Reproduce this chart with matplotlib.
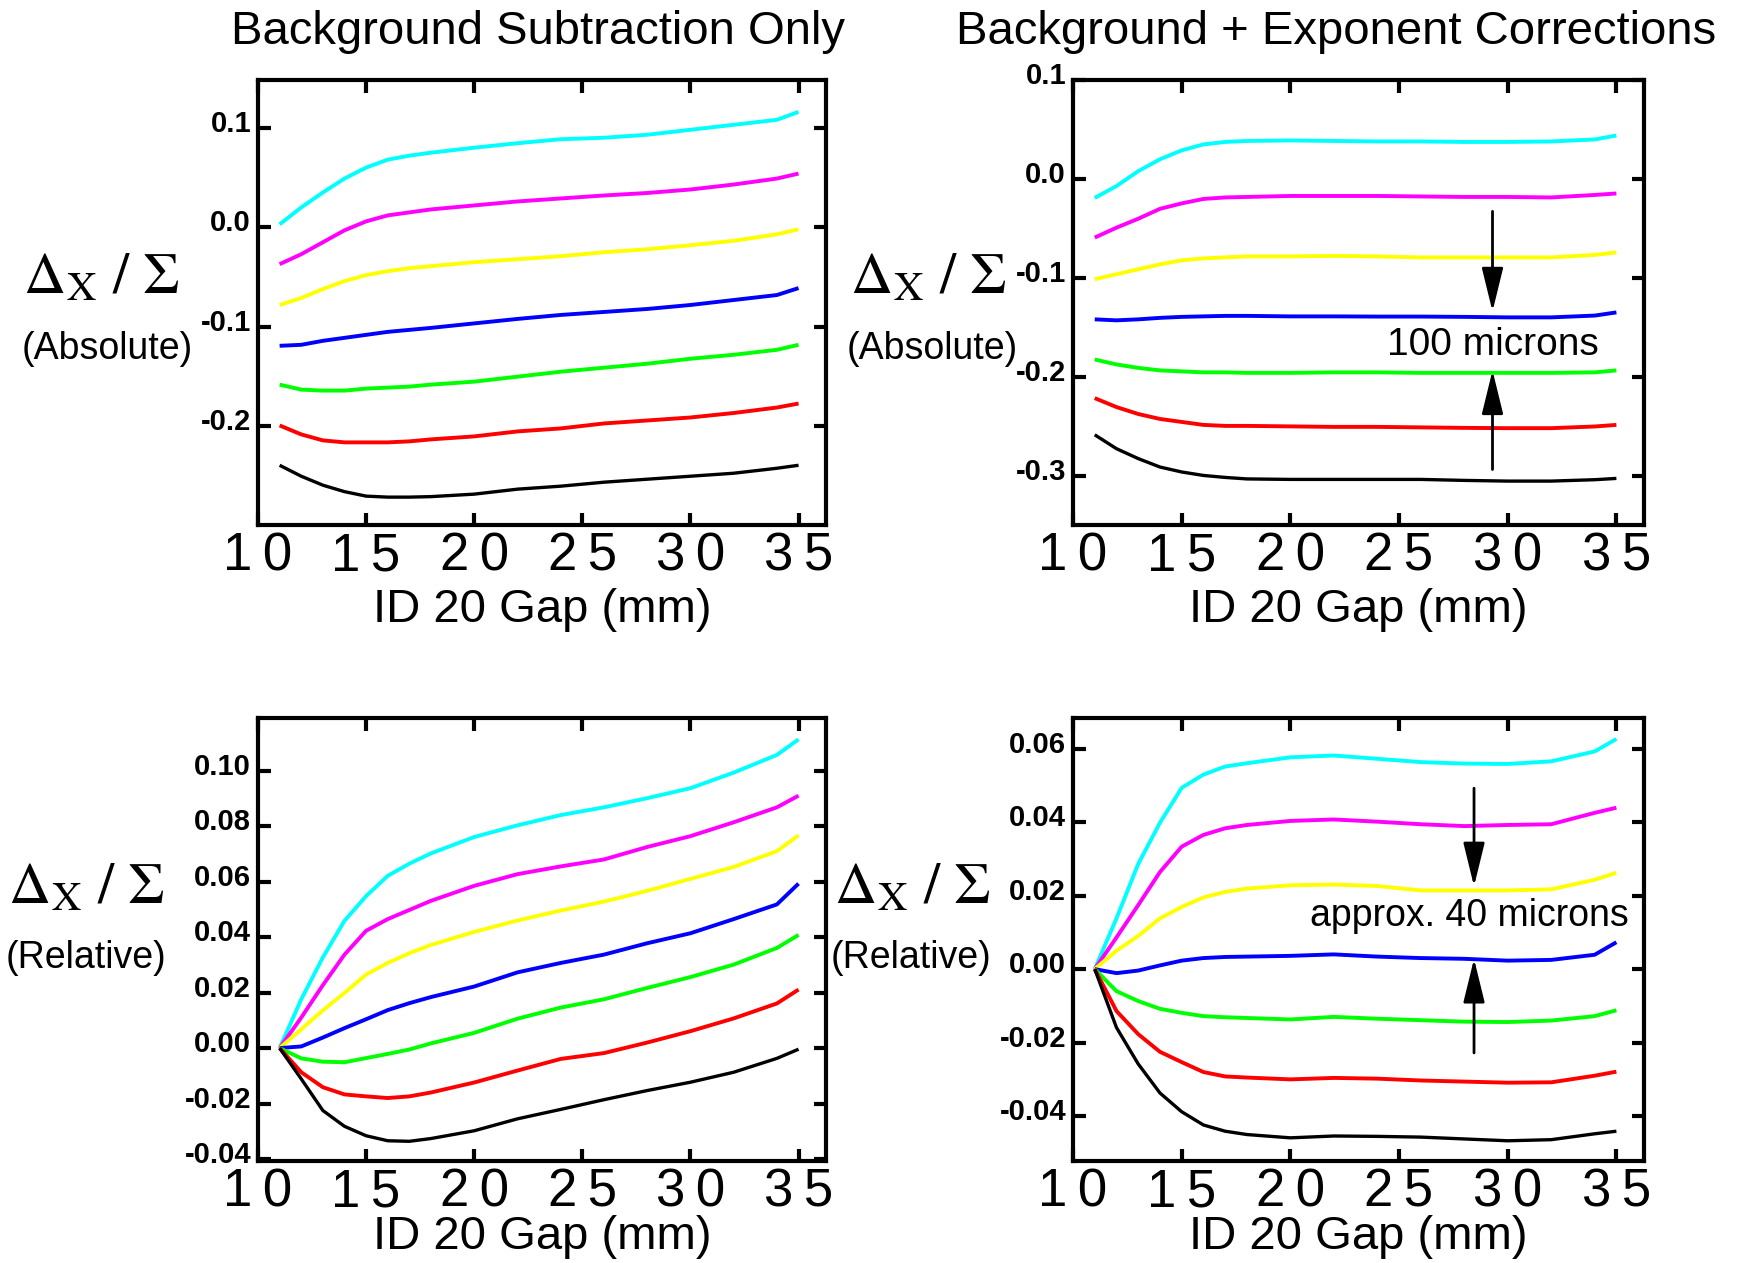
import matplotlib
matplotlib.use("Agg")
import matplotlib.pyplot as plt
from matplotlib.ticker import FixedLocator, FormatStrFormatter
from matplotlib.transforms import ScaledTranslation

plt.rcParams['font.family'] = ['Liberation Sans', 'DejaVu Sans']
plt.rcParams['mathtext.fontset'] = 'stix'
plt.rcParams['axes.unicode_minus'] = False

# ID 20 gap settings (mm)
gap = [11, 12, 13, 14, 15, 16, 17, 18, 20, 22, 24, 26, 28, 30, 32, 34, 35]

colors = ['#00ffff', '#ff00ff', '#ffff00', '#0000ff', '#00ff00', '#ff0000', '#000000']

# Background subtraction only, absolute Δx/Σ
abs_bg = [
    [0.003, 0.020, 0.035, 0.049, 0.060, 0.068, 0.072, 0.075, 0.080, 0.0845, 0.0885, 0.090, 0.093, 0.098, 0.103, 0.108, 0.116],
    [-0.037, -0.027, -0.015, -0.003, 0.006, 0.012, 0.015, 0.018, 0.022, 0.026, 0.029, 0.032, 0.0345, 0.038, 0.043, 0.049, 0.054],
    [-0.078, -0.071, -0.062, -0.054, -0.048, -0.044, -0.041, -0.039, -0.035, -0.032, -0.029, -0.025, -0.022, -0.018, -0.0135, -0.007, -0.002],
    [-0.119, -0.118, -0.114, -0.111, -0.108, -0.105, -0.103, -0.101, -0.0965, -0.092, -0.088, -0.085, -0.082, -0.078, -0.073, -0.068, -0.061],
    [-0.158, -0.163, -0.164, -0.164, -0.162, -0.161, -0.160, -0.158, -0.155, -0.150, -0.145, -0.141, -0.137, -0.132, -0.128, -0.123, -0.118],
    [-0.199, -0.208, -0.214, -0.216, -0.216, -0.216, -0.215, -0.213, -0.210, -0.205, -0.202, -0.197, -0.194, -0.191, -0.1865, -0.181, -0.177],
    [-0.239, -0.250, -0.259, -0.2655, -0.270, -0.271, -0.271, -0.2705, -0.268, -0.263, -0.260, -0.256, -0.253, -0.250, -0.247, -0.242, -0.239],
]

# Background + exponent corrections, absolute Δx/Σ
abs_corr = [
    [-0.019, -0.007, 0.008, 0.020, 0.029, 0.035, 0.0375, 0.0385, 0.039, 0.0385, 0.038, 0.038, 0.0375, 0.0375, 0.038, 0.040, 0.044],
    [-0.059, -0.049, -0.040, -0.030, -0.0245, -0.020, -0.0185, -0.018, -0.017, -0.017, -0.017, -0.0175, -0.018, -0.018, -0.0185, -0.016, -0.0145],
    [-0.101, -0.096, -0.091, -0.086, -0.082, -0.080, -0.079, -0.078, -0.078, -0.0775, -0.078, -0.079, -0.079, -0.079, -0.079, -0.0765, -0.074],
    [-0.1415, -0.1425, -0.1415, -0.140, -0.139, -0.1385, -0.138, -0.138, -0.1385, -0.1385, -0.1387, -0.1387, -0.139, -0.1395, -0.1395, -0.1377, -0.1345],
    [-0.182, -0.187, -0.1905, -0.193, -0.194, -0.195, -0.195, -0.1955, -0.1955, -0.195, -0.195, -0.1955, -0.1955, -0.1955, -0.1955, -0.195, -0.193],
    [-0.221, -0.230, -0.237, -0.242, -0.245, -0.248, -0.249, -0.249, -0.2495, -0.250, -0.250, -0.2505, -0.251, -0.2513, -0.2513, -0.2496, -0.248],
    [-0.258, -0.272, -0.282, -0.2905, -0.2955, -0.299, -0.301, -0.3025, -0.303, -0.303, -0.303, -0.303, -0.304, -0.3047, -0.3047, -0.3033, -0.302],
]

# Background subtraction only, relative to the 11 mm value
rel_bg = [
    [0.0, 0.0176, 0.0327, 0.0459, 0.0548, 0.0621, 0.0665, 0.0702, 0.0761, 0.0803, 0.0840, 0.0868, 0.0901, 0.0937, 0.0993, 0.1057, 0.1113],
    [0.0, 0.0110, 0.0227, 0.0337, 0.0423, 0.0465, 0.0498, 0.0531, 0.0585, 0.0627, 0.0655, 0.0680, 0.0725, 0.0764, 0.0814, 0.0868, 0.0910],
    [0.0, 0.0068, 0.0136, 0.0199, 0.0265, 0.0307, 0.0342, 0.0372, 0.0419, 0.0460, 0.0496, 0.0528, 0.0567, 0.0610, 0.0653, 0.0710, 0.0767],
    [0.0, 0.0006, 0.0038, 0.0072, 0.0104, 0.0137, 0.0162, 0.0184, 0.0222, 0.0273, 0.0307, 0.0337, 0.0378, 0.0414, 0.0465, 0.0518, 0.0593],
    [0.0, -0.0037, -0.0049, -0.0051, -0.0036, -0.0021, -0.0005, 0.0017, 0.0055, 0.0106, 0.0146, 0.0176, 0.0217, 0.0256, 0.0301, 0.0361, 0.0408],
    [0.0, -0.0087, -0.0141, -0.0167, -0.0174, -0.0180, -0.0174, -0.0160, -0.0124, -0.0081, -0.0039, -0.0018, 0.0020, 0.0061, 0.0107, 0.0161, 0.0211],
    [0.0, -0.0111, -0.0225, -0.0282, -0.0316, -0.0334, -0.0336, -0.0326, -0.0298, -0.0255, -0.0221, -0.0186, -0.0153, -0.0123, -0.0087, -0.0037, -0.0004],
]

# Background + exponent corrections, relative to the 11 mm value
rel_corr = [
    [0.0, 0.0138, 0.0286, 0.0398, 0.0493, 0.0529, 0.0551, 0.0560, 0.0576, 0.0581, 0.0572, 0.0563, 0.0559, 0.0558, 0.0565, 0.0592, 0.0626],
    [0.0, 0.0086, 0.0174, 0.0264, 0.0333, 0.0365, 0.0383, 0.0392, 0.0403, 0.0407, 0.0401, 0.0394, 0.0389, 0.0392, 0.0394, 0.0425, 0.0439],
    [0.0, 0.0050, 0.0090, 0.0138, 0.0169, 0.0195, 0.0210, 0.0219, 0.0228, 0.0230, 0.0226, 0.0214, 0.0214, 0.0214, 0.0217, 0.0243, 0.0262],
    [0.0, -0.0011, -0.0004, 0.0010, 0.0023, 0.0030, 0.0033, 0.0034, 0.0036, 0.0040, 0.0034, 0.0030, 0.0028, 0.0023, 0.0025, 0.0039, 0.0073],
    [0.0, -0.0060, -0.0087, -0.0108, -0.0119, -0.0128, -0.0131, -0.0133, -0.0137, -0.0130, -0.0135, -0.0139, -0.0143, -0.0144, -0.0140, -0.0128, -0.0112],
    [0.0, -0.0114, -0.0177, -0.0225, -0.0253, -0.0280, -0.0292, -0.0295, -0.0300, -0.0296, -0.0298, -0.0303, -0.0306, -0.0309, -0.0308, -0.0290, -0.0279],
    [0.0, -0.0159, -0.0258, -0.0337, -0.0388, -0.0424, -0.0441, -0.0450, -0.0459, -0.0454, -0.0455, -0.0457, -0.0462, -0.0467, -0.0464, -0.0448, -0.0441],
]

x_ticks = [10, 15, 20, 25, 30, 35]
x_ticklabels = ['1\u20090', '1\u20095', '2\u20090', '2\u20095', '3\u20090', '3\u20095']
abs_yticks = [0.1, 0.0, -0.1, -0.2, -0.3]
rel_yticks = [0.10, 0.08, 0.06, 0.04, 0.02, 0.00, -0.02, -0.04]

titles = ['Background Subtraction Only', 'Background + Exponent Corrections']
x_label = 'ID 20 Gap (mm)'
ratio_label = r'$\Delta_{\mathrm{X}}\ /\ \Sigma$'

W, H = 1744, 1263
fig = plt.figure(figsize=(W / 100, H / 100), dpi=100)


def box(l, t, r, b):
    return [l / W, 1 - b / H, (r - l) / W, (b - t) / H]


ax1 = fig.add_axes(box(258, 80, 826, 525))
ax2 = fig.add_axes(box(1073, 80, 1644, 525))
ax3 = fig.add_axes(box(258, 718, 826, 1161))
ax4 = fig.add_axes(box(1073, 718, 1644, 1161))

panels = [
    (ax1, abs_bg, (-0.299, 0.148), abs_yticks, '%.1f', 4),
    (ax2, abs_corr, (-0.349, 0.100), abs_yticks, '%.1f', 4),
    (ax3, rel_bg, (-0.0407, 0.119), rel_yticks, '%.2f', -2),
    (ax4, rel_corr, (-0.0522, 0.0683), rel_yticks, '%.2f', -2),
]

up = ScaledTranslation(0, 5 / 72, fig.dpi_scale_trans)

for ax, series, ylim, yt, fmt, lpad in panels:
    for vals, c in zip(series, colors):
        ax.plot(gap, vals, color=c, lw=2.8 if c != '#000000' else 2.4,
                solid_capstyle='butt')
    ax.set_xlim(10, 36.27)
    ax.set_ylim(*ylim)
    ax.xaxis.set_major_locator(FixedLocator(x_ticks))
    ax.set_xticklabels(x_ticklabels)
    ax.yaxis.set_major_locator(FixedLocator(yt))
    ax.yaxis.set_major_formatter(FormatStrFormatter(fmt))
    ax.tick_params(direction='in', top=True, right=True, length=9, width=3)
    ax.tick_params(axis='x', labelsize=38, pad=5)
    ax.tick_params(axis='y', labelsize=21, pad=5)
    for lab in ax.get_yticklabels():
        lab.set_fontweight('bold')
        lab.set_transform(lab.get_transform() + up)
    for s in ax.spines.values():
        s.set_linewidth(3)
    ax.set_xlabel(x_label, fontsize=34, labelpad=lpad)

# column titles
fig.text(538 / W, 1 - 32 / H, titles[0], fontsize=34, ha='center', va='center')
fig.text(1336 / W, 1 - 32 / H, titles[1], fontsize=34, ha='center', va='center')

# vertical-axis quantity labels
for cx, base, sub, sx, sy in [(101, 293, '(Absolute)', 107, 349), (928, 293, '(Absolute)', 932, 349),
                              (86, 903, '(Relative)', 86, 958), (912, 903, '(Relative)', 911, 958)]:
    fig.text(cx / W, 1 - base / H, ratio_label, fontsize=42, ha='center', va='baseline')
    fig.text(sx / W, 1 - sy / H, sub, fontsize=27, ha='center', va='center')

arrow_style = dict(arrowstyle='-|>,head_length=1.35,head_width=0.33', mutation_scale=20,
                   lw=2, color='black', shrinkA=0, shrinkB=0)

# separation markers, absolute panel
ax2.annotate('', xy=(29.3, -0.1336), xytext=(29.3, -0.0325), arrowprops=arrow_style)
ax2.annotate('', xy=(29.3, -0.193), xytext=(29.3, -0.293), arrowprops=arrow_style)
ax2.text(29.3, -0.167, '100 microns', fontsize=28, ha='center', va='center')

# separation markers, relative panel
ax4.annotate('', xy=(28.45, 0.0225), xytext=(28.45, 0.0492), arrowprops=arrow_style)
ax4.annotate('', xy=(28.45, 0.0028), xytext=(28.45, -0.0228), arrowprops=arrow_style)
ax4.text(28.22, 0.0144, 'approx. 40 microns', fontsize=27, ha='center', va='center')

fig.savefig('out.png', dpi=100)
